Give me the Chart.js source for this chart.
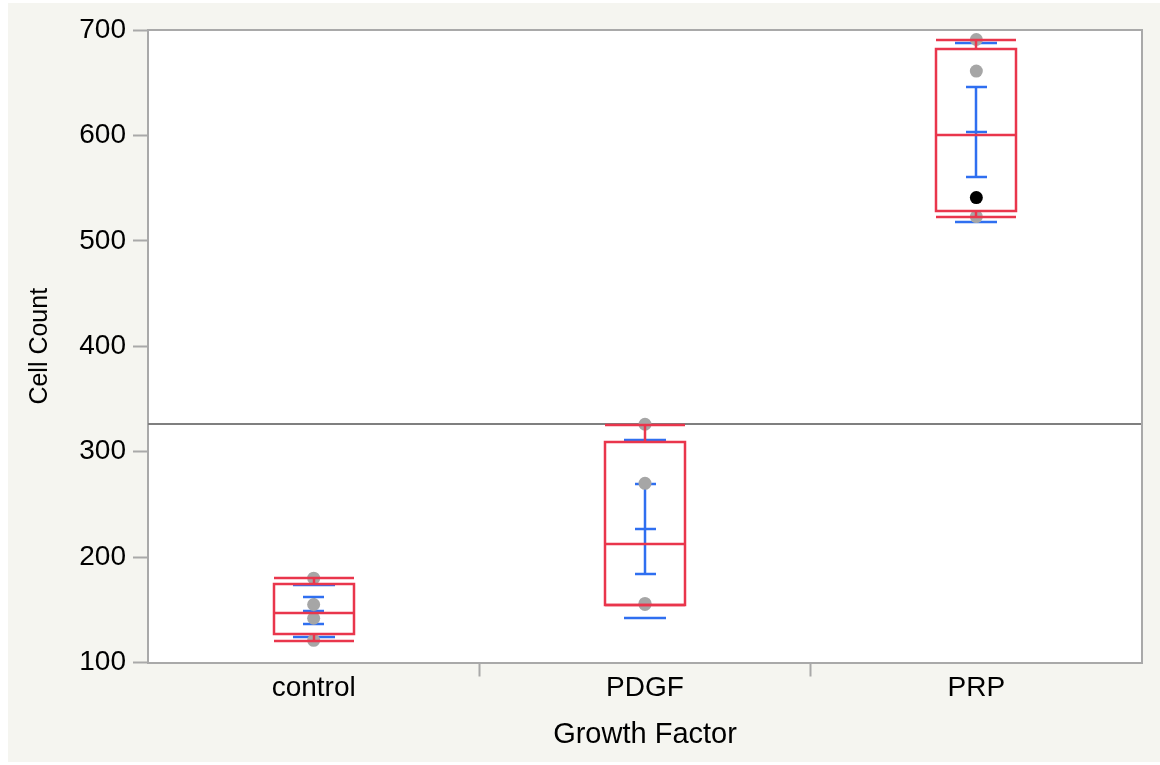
<!DOCTYPE html>
<html><head><meta charset="utf-8">
<style>html,body{margin:0;padding:0;background:#fff;} #wrap{position:relative;width:1160px;height:765px;} canvas{display:block;}</style>
<script src="https://cdn.jsdelivr.net/npm/chart.js@4/dist/chart.umd.min.js"></script>
</head><body><div id="wrap"><canvas id="c" width="1160" height="765"></canvas></div>
<script>
// ---- data ----
const categories = ['control', 'PDGF', 'PRP'];
const yTicks = [100, 200, 300, 400, 500, 600, 700];
const obsControl = [180, 155, 142, 121];
const obsPDGF = [326, 270, 156, 155];
const obsPRP = [691, 661, 541, 523];
const highlightedPRP = 541;            // the one black (selected) point
// box plot statistics
const boxMin    = [120, 155, 523];
const boxQ1     = [126.7, 155, 528.6];
const boxMedian = [146.7, 212.4, 600.5];
const boxQ3     = [174.5, 309.5, 682.3];
const boxMax    = [180, 325.5, 690.5];
// means, standard errors, standard deviations
const means  = [149.2, 226.6, 602.9];
const stdErr = [12.7, 42.8, 42.6];
const stdDev = [24.7, 84.7, 84.9];
const grandMean = 326.2;

// ---- styles ----
const FONT = "'Liberation Sans', Arial, Helvetica, sans-serif";
const RED = '#e9364c', BLUE = '#2f6ff0', PT_GRAY = '#a6a6a6', FRAME = '#a9a9a9', MEAN_GRAY = '#7f7f7f';
const LW = 2.5;

const obsAll = [obsControl, obsPDGF, obsPRP];
const pointData = [], pointColors = [];
obsAll.forEach((arr, i) => arr.forEach(v => {
  pointData.push({x: categories[i], y: v});
  pointColors.push(i === 2 && v === highlightedPRP ? '#000000' : PT_GRAY);
}));

const R = Math.round;
function hline(ctx, x1, x2, y, color, w) {
  ctx.beginPath(); ctx.strokeStyle = color; ctx.lineWidth = w;
  ctx.moveTo(R(x1), R(y)); ctx.lineTo(R(x2), R(y)); ctx.stroke();
}
function vline(ctx, x, y1, y2, color, w) {
  ctx.beginPath(); ctx.strokeStyle = color; ctx.lineWidth = w;
  ctx.moveTo(R(x), R(y1)); ctx.lineTo(R(x), R(y2)); ctx.stroke();
}

const jmpPlugin = {
  id: 'jmp',
  beforeDraw(chart) {
    const {ctx, chartArea: a} = chart;
    ctx.save();
    ctx.fillStyle = '#f5f5f0';
    ctx.fillRect(8, 3, 1152, 759);
    ctx.fillStyle = '#ffffff';
    ctx.fillRect(a.left, a.top, a.right - a.left, a.bottom - a.top);
    ctx.restore();
  },
  beforeDatasetsDraw(chart) {
    const {ctx, chartArea: a} = chart;
    const xs = chart.scales.x, ys = chart.scales.y;
    ctx.save();
    hline(ctx, a.left, a.right, ys.getPixelForValue(grandMean), MEAN_GRAY, 2);
    categories.forEach((c, i) => {
      const cx = xs.getPixelForValue(i);
      const m = means[i], se = stdErr[i], sd = stdDev[i];
      hline(ctx, cx - 21, cx + 21, ys.getPixelForValue(m + sd), BLUE, LW);
      hline(ctx, cx - 21, cx + 21, ys.getPixelForValue(m - sd), BLUE, LW);
      vline(ctx, cx, ys.getPixelForValue(m + se), ys.getPixelForValue(m - se), BLUE, LW);
      hline(ctx, cx - 10.5, cx + 10.5, ys.getPixelForValue(m + se), BLUE, LW);
      hline(ctx, cx - 10.5, cx + 10.5, ys.getPixelForValue(m - se), BLUE, LW);
      hline(ctx, cx - 10.5, cx + 10.5, ys.getPixelForValue(m), BLUE, LW);
    });
    ctx.restore();
  },
  afterDatasetsDraw(chart) {
    const {ctx} = chart;
    const xs = chart.scales.x, ys = chart.scales.y;
    ctx.save();
    categories.forEach((c, i) => {
      const cx = xs.getPixelForValue(i);
      const yq1 = ys.getPixelForValue(boxQ1[i]), yq3 = ys.getPixelForValue(boxQ3[i]);
      ctx.beginPath(); ctx.strokeStyle = RED; ctx.lineWidth = LW;
      ctx.rect(R(cx - 40), R(yq3), 80, R(yq1) - R(yq3)); ctx.stroke();
      hline(ctx, cx - 40, cx + 40, ys.getPixelForValue(boxMedian[i]), RED, LW);
      hline(ctx, cx - 40, cx + 40, ys.getPixelForValue(boxMax[i]), RED, LW);
      hline(ctx, cx - 40, cx + 40, ys.getPixelForValue(boxMin[i]), RED, LW);
      vline(ctx, cx, yq3, ys.getPixelForValue(boxMax[i]), RED, LW);
      vline(ctx, cx, yq1, ys.getPixelForValue(boxMin[i]), RED, LW);
    });
    ctx.restore();
  },
  afterDraw(chart) {
    const {ctx, chartArea: a} = chart;
    ctx.save();
    hline(ctx, a.left - 1, a.right + 1, a.top, FRAME, 2);
    vline(ctx, a.right, a.top - 1, a.bottom + 1, FRAME, 2);
    ctx.restore();
  }
};

new Chart(document.getElementById('c'), {
  data: {
    labels: categories,
    datasets: [
      {
        type: 'line',
        data: pointData,
        showLine: false,
        pointRadius: 6.5,
        pointBorderWidth: 0,
        pointBackgroundColor: pointColors,
        pointBorderColor: pointColors
      }
    ]
  },
  options: {
    responsive: false,
    animation: false,
    events: [],
    layout: {padding: {top: 30, right: 18, left: 0, bottom: 0}},
    plugins: {legend: {display: false}, tooltip: {enabled: false}},
    scales: {
      x: {
        type: 'category',
        offset: true,
        grid: {
          offset: true, drawOnChartArea: false, drawTicks: true, tickLength: 14, tickWidth: 2,
          tickColor: (c) => (c.index === 1 || c.index === 2) ? FRAME : 'rgba(0,0,0,0)'
        },
        border: {display: true, color: FRAME, width: 2},
        ticks: {color: '#000', font: {family: FONT, size: 28}, padding: -5},
        title: {display: true, text: 'Growth Factor', color: '#000', font: {family: FONT, size: 29}, padding: {top: 0, bottom: 13}},
        afterFit(s) { s.height = 102.5; }
      },
      y: {
        type: 'linear',
        min: 100, max: 700,
        afterBuildTicks(s) { s.ticks = yTicks.map(v => ({value: v})); },
        grid: {drawOnChartArea: false, drawTicks: true, tickLength: 15, tickColor: FRAME, tickWidth: 2},
        border: {display: true, color: FRAME, width: 2},
        ticks: {color: '#000', font: {family: FONT, size: 28}, padding: 7},
        title: {display: true, text: 'Cell Count', color: '#000', font: {family: FONT, size: 25}, padding: {top: 25, bottom: 0}},
        afterFit(s) { s.width = 148; }
      }
    }
  },
  plugins: [jmpPlugin]
});
</script>
</body></html>
